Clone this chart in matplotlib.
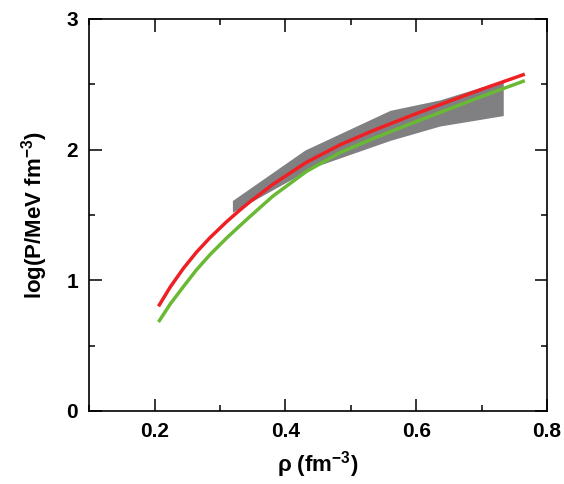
import numpy as np
import matplotlib.pyplot as plt
from matplotlib.ticker import MultipleLocator

# red curve
rho_red = [0.206, 0.224, 0.244, 0.264, 0.285, 0.31, 0.33, 0.346, 0.381, 0.432,
           0.483, 0.534, 0.585, 0.636, 0.70, 0.766]
logp_red = [0.80, 0.948, 1.090, 1.214, 1.327, 1.447, 1.535, 1.601, 1.734, 1.902,
            2.035, 2.145, 2.246, 2.343, 2.461, 2.577]

# green curve
rho_green = [0.206, 0.224, 0.244, 0.264, 0.285, 0.31, 0.33, 0.346, 0.381, 0.432,
             0.483, 0.534, 0.585, 0.636, 0.70, 0.766]
logp_green = [0.68, 0.818, 0.950, 1.079, 1.197, 1.322, 1.415, 1.488, 1.644, 1.832,
              1.975, 2.084, 2.185, 2.283, 2.406, 2.527]

# gray band (upper/lower bounds)
band_rho = [0.319, 0.430, 0.44, 0.56, 0.636, 0.733]
band_hi = [1.61, 1.997, 2.02, 2.30, 2.38, 2.53]
band_lo = [1.52, 1.83, 1.86, 2.07, 2.18, 2.26]

plt.rcParams['font.family'] = ['Liberation Sans', 'DejaVu Sans']
plt.rcParams['mathtext.fontset'] = 'custom'
plt.rcParams['mathtext.bf'] = 'Liberation Sans:bold'
plt.rcParams['mathtext.rm'] = 'Liberation Sans:bold'
plt.rcParams['mathtext.default'] = 'bf'

fig = plt.figure(figsize=(5.64, 4.84), dpi=100)
ax = fig.add_axes([0.158, 0.151, 0.812, 0.810])

ax.fill_between(band_rho, band_lo, band_hi, color='#808083', lw=0, zorder=1)
ax.plot(rho_green, logp_green, color='#6AB934', lw=2.5, zorder=2,
        solid_capstyle='butt', solid_joinstyle='round')
ax.plot(rho_red, logp_red, color='#EE2024', lw=2.5, zorder=3,
        solid_capstyle='butt', solid_joinstyle='round')

ax.set_xlim(0.1, 0.8)
ax.set_ylim(0, 3)
ax.xaxis.set_major_locator(MultipleLocator(0.2))
ax.xaxis.set_minor_locator(MultipleLocator(0.1))
ax.yaxis.set_major_locator(MultipleLocator(1))
ax.yaxis.set_minor_locator(MultipleLocator(0.5))
ax.set_xticks([0.2, 0.4, 0.6, 0.8])
ax.set_xticklabels(['0.2', '0.4', '0.6', '0.8'])
ax.tick_params(which='both', direction='in', top=True, right=True, width=1.1)
ax.tick_params(which='major', length=9, labelsize=15, pad=8)
ax.tick_params(which='minor', length=4.5)
for lbl in ax.get_xticklabels() + ax.get_yticklabels():
    lbl.set_fontweight('bold')
for s in ax.spines.values():
    s.set_linewidth(1.2)

ax.set_xlabel('ρ (fm$^{-3}$)', fontsize=16, fontweight='bold', labelpad=6)
ax.set_ylabel('log(P/MeV fm$^{-3}$)', fontsize=16, fontweight='bold', labelpad=12)

fig.savefig('out.png', dpi=100)
